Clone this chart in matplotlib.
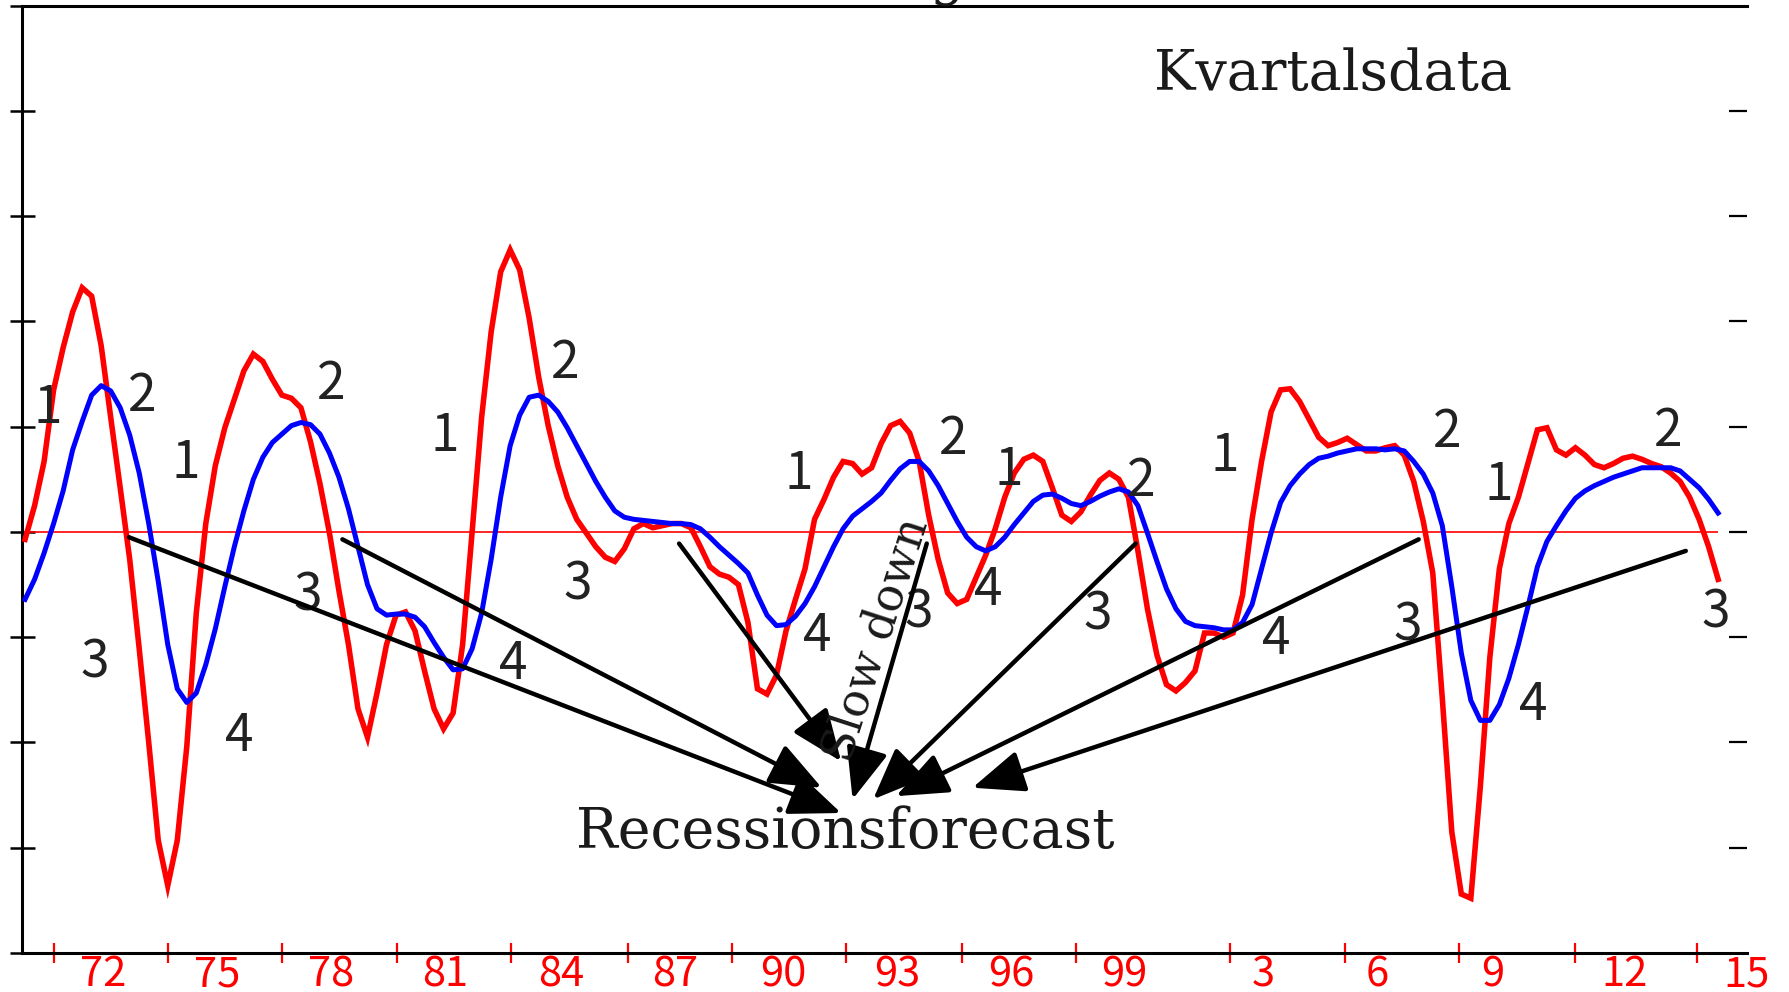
import numpy as np
import matplotlib
matplotlib.use("Agg")
import matplotlib.pyplot as plt

# kvartalsdata 1970Q1 - 2014Q3
red = [-0.07, 0.25, 0.67, 1.35, 1.75, 2.09, 2.32, 2.24, 1.77, 1.09,
       0.42, -0.26, -1.11, -2.00, -2.93, -3.36, -2.93, -2.04, -0.77, 0.08,
       0.63, 0.99, 1.26, 1.53, 1.69, 1.62, 1.45, 1.30, 1.27, 1.18,
       0.86, 0.46, -0.01, -0.56, -1.07, -1.68, -1.95, -1.53, -1.07, -0.79,
       -0.76, -0.94, -1.32, -1.68, -1.87, -1.72, -1.07, 0.00, 1.09, 1.90,
       2.47, 2.68, 2.49, 2.03, 1.47, 1.01, 0.63, 0.33, 0.12, -0.01,
       -0.14, -0.24, -0.28, -0.16, 0.03, 0.08, 0.04, 0.06, 0.08, 0.08,
       0.04, -0.14, -0.33, -0.40, -0.43, -0.50, -0.86, -1.49, -1.54, -1.36,
       -0.94, -0.64, -0.35, 0.12, 0.31, 0.52, 0.67, 0.65, 0.55, 0.61,
       0.84, 1.01, 1.05, 0.94, 0.67, 0.16, -0.26, -0.58, -0.68, -0.64,
       -0.43, -0.22, 0.03, 0.33, 0.56, 0.69, 0.73, 0.67, 0.42, 0.16,
       0.10, 0.19, 0.35, 0.49, 0.56, 0.50, 0.33, -0.18, -0.73, -1.17,
       -1.45, -1.51, -1.43, -1.32, -0.96, -0.96, -1.00, -0.96, -0.60, 0.12,
       0.67, 1.14, 1.35, 1.36, 1.24, 1.07, 0.90, 0.82, 0.85, 0.89,
       0.83, 0.77, 0.77, 0.80, 0.82, 0.73, 0.48, 0.10, -0.39, -1.58,
       -2.85, -3.44, -3.48, -2.42, -1.19, -0.35, 0.08, 0.33, 0.65, 0.97,
       0.99, 0.78, 0.73, 0.80, 0.73, 0.64, 0.61, 0.65, 0.70, 0.72,
       0.69, 0.65, 0.62, 0.56, 0.48, 0.33, 0.12, -0.14, -0.45]

blue = [-0.64, -0.45, -0.20, 0.08, 0.39, 0.78, 1.05, 1.30, 1.39, 1.34,
        1.18, 0.92, 0.56, 0.08, -0.47, -1.07, -1.49, -1.62, -1.53, -1.26,
        -0.92, -0.52, -0.14, 0.20, 0.50, 0.71, 0.85, 0.93, 1.01, 1.04,
        1.02, 0.93, 0.75, 0.52, 0.22, -0.14, -0.50, -0.73, -0.79, -0.78,
        -0.78, -0.81, -0.90, -1.05, -1.19, -1.31, -1.30, -1.11, -0.77, -0.26,
        0.33, 0.82, 1.11, 1.28, 1.30, 1.24, 1.14, 0.99, 0.82, 0.65,
        0.48, 0.33, 0.20, 0.14, 0.12, 0.11, 0.10, 0.09, 0.08, 0.08,
        0.07, 0.03, -0.05, -0.14, -0.22, -0.30, -0.39, -0.60, -0.79, -0.89,
        -0.88, -0.80, -0.68, -0.52, -0.33, -0.14, 0.03, 0.15, 0.22, 0.29,
        0.37, 0.49, 0.60, 0.67, 0.67, 0.58, 0.44, 0.27, 0.10, -0.05,
        -0.14, -0.18, -0.14, -0.05, 0.07, 0.18, 0.29, 0.35, 0.36, 0.32,
        0.27, 0.25, 0.29, 0.34, 0.38, 0.41, 0.38, 0.25, -0.01, -0.28,
        -0.54, -0.73, -0.85, -0.89, -0.90, -0.91, -0.93, -0.93, -0.86, -0.69,
        -0.35, -0.01, 0.28, 0.44, 0.55, 0.64, 0.70, 0.72, 0.75, 0.77,
        0.79, 0.79, 0.79, 0.78, 0.79, 0.77, 0.67, 0.55, 0.37, 0.06,
        -0.52, -1.15, -1.60, -1.79, -1.79, -1.64, -1.39, -1.07, -0.71, -0.33,
        -0.09, 0.06, 0.20, 0.32, 0.39, 0.44, 0.48, 0.52, 0.55, 0.58,
        0.61, 0.61, 0.61, 0.61, 0.58, 0.50, 0.42, 0.31, 0.18]

t = 1970.09 + np.arange(len(red)) / 4

label_pos = [1972.13, 1975.13, 1978.13, 1981.13, 1984.19, 1987.19, 1990.01, 1993.01,
             1996.01, 1998.98, 2002.64, 2005.64, 2008.67, 2012.12, 2015.33]
labels = ["72", "75", "78", "81", "84", "87", "90", "93",
          "96", "99", "3", "6", "9", "12", "15"]
tick_pos = [1970.84, 1973.84, 1976.84, 1979.87, 1982.87, 1985.93, 1988.66, 1991.66,
            1994.72, 1997.72, 2001.77, 2004.77, 2007.77, 2010.83, 2014.04]

jp = ["Noto Sans CJK JP", "DejaVu Sans"]
serif = "DejaVu Serif"

fig = plt.figure(figsize=(17.9, 9.92), dpi=100)
ax = fig.add_axes([0.0121, 0.0393, 0.9639, 0.955])

ax.plot(t, red, color="#ff0000", lw=4.0, solid_joinstyle="miter", zorder=3)
ax.plot(t, blue, color="#0000ff", lw=3.6, zorder=4)
ax.hlines(0, 1970, t[-1], color="#ff0000", lw=1.2, zorder=2)

ax.set_xlim(1970, 2015.35)
ax.set_ylim(-4, 5)

for s in ["left", "top", "bottom"]:
    ax.spines[s].set_linewidth(2.2)
    ax.spines[s].set_color("black")
ax.spines["right"].set_visible(False)

ax.set_yticks(range(-4, 6))
ax.set_yticklabels([])
ax.tick_params(axis="y", direction="inout", length=18, width=1.8, color="black")

ax2 = ax.twinx()
ax2.set_ylim(-4, 5)
ax2.set_yticks(range(-3, 5))
ax2.set_yticklabels([])
ax2.tick_params(axis="y", direction="in", length=13, width=1.6, color="black")
for s in ax2.spines.values():
    s.set_visible(False)

ax.set_xticks(label_pos)
ax.set_xticklabels(labels, color="#ff0000", fontsize=30, family=jp)
ax.set_xticks(tick_pos, minor=True)
ax.tick_params(axis="x", which="major", length=0, pad=1)
ax.tick_params(axis="x", which="minor", direction="inout", length=14, width=1.6, color="#ff0000")

# fasnummer
phases = [
    (1970.69, 1.18, "1"), (1974.32, 0.65, "1"), (1981.13, 0.91, "1"), (1990.43, 0.55, "1"),
    (1995.95, 0.59, "1"), (2001.62, 0.72, "1"), (2008.82, 0.44, "1"),
    (1973.18, 1.29, "2"), (1978.13, 1.40, "2"), (1984.28, 1.60, "2"), (1994.48, 0.88, "2"),
    (1999.43, 0.48, "2"), (2007.47, 0.95, "2"), (2013.29, 0.96, "2"),
    (1971.92, -1.24, "3"), (1977.53, -0.61, "3"), (1984.61, -0.50, "3"), (1993.58, -0.77, "3"),
    (1998.29, -0.79, "3"), (2006.42, -0.89, "3"), (2014.52, -0.77, "3"),
    (1975.73, -1.94, "4"), (1982.93, -1.26, "4"), (1990.91, -0.99, "4"), (1995.41, -0.55, "4"),
    (2002.97, -1.02, "4"), (2009.72, -1.65, "4"),
]
for x, y, s in phases:
    ax.text(x, y, s, fontsize=37, family=jp, color="#222222", ha="center", va="center", zorder=5)

arrows = [
    ((1972.82, -0.05), (1991.54, -2.67)),
    ((1978.43, -0.07), (1991.03, -2.43)),
    ((1987.28, -0.11), (1991.54, -2.18)),
    ((1993.79, -0.11), (1991.84, -2.54)),
    ((1999.28, -0.11), (1992.38, -2.54)),
    ((2006.72, -0.07), (1992.98, -2.51)),
    ((2013.74, -0.18), (1994.99, -2.43)),
]
for start, end in arrows:
    ax.annotate("", xy=end, xytext=start,
                arrowprops=dict(arrowstyle="-|>,head_length=1.6,head_width=0.65",
                                lw=3.2, color="black", mutation_scale=20,
                                shrinkA=0, shrinkB=0),
                zorder=6)

ax.text(1991.66, -2.86, "Recessionsforecast", fontsize=40, family=serif,
        color="#1a1a1a", ha="center", va="center")
ax.text(2004.47, 4.34, "Kvartalsdata", fontsize=40, family=serif,
        color="#1a1a1a", ha="center", va="center")
ax.text(1992.48, -1.02, "Slow down", fontsize=33, family=serif, rotation=72,
        color="#1a1a1a", ha="center", va="center", zorder=7)

# rest av rubriken utanför bilden
fig.text(947 / 1790, 1.0 + 6 / 992, "g", fontsize=40, family=serif,
         color="#1a1a1a", ha="center", va="baseline")

fig.savefig("out.png", dpi=100)
